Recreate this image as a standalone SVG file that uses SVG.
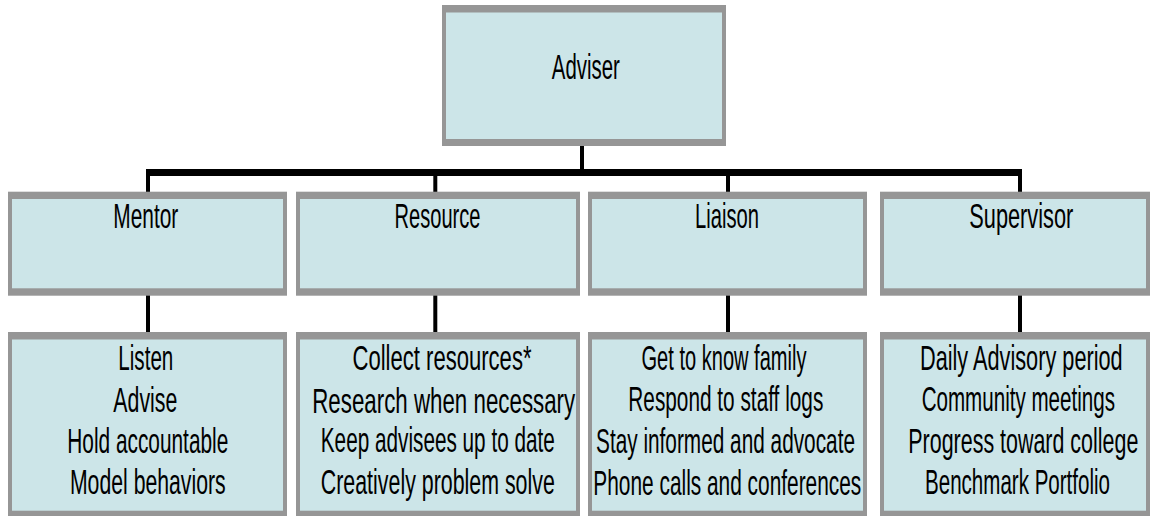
<svg xmlns="http://www.w3.org/2000/svg" width="1150" height="516" viewBox="0 0 1150 516">
<style>
.border{fill:#969696}
.fill{fill:#CCE5E8}
.t{font-family:"Liberation Sans",Arial,sans-serif;font-size:35px;fill:#000;text-anchor:middle}
.c{stroke:#000;fill:none}
</style>
<rect width="1150" height="516" fill="#fff"/>
<g id="connectors">
<line class="c" x1="582" y1="146" x2="582" y2="172" stroke-width="4"/>
<line class="c" x1="146" y1="172.5" x2="1022" y2="172.5" stroke-width="7"/>
<line class="c" x1="148" y1="172" x2="148" y2="192" stroke-width="4"/>
<line class="c" x1="435.3" y1="172" x2="435.3" y2="192" stroke-width="4"/>
<line class="c" x1="728" y1="172" x2="728" y2="192" stroke-width="4"/>
<line class="c" x1="1020" y1="172" x2="1020" y2="192" stroke-width="4"/>
<line class="c" x1="148" y1="295" x2="148" y2="333" stroke-width="4"/>
<line class="c" x1="435.3" y1="295" x2="435.3" y2="333" stroke-width="4"/>
<line class="c" x1="728" y1="295" x2="728" y2="333" stroke-width="4"/>
<line class="c" x1="1020" y1="295" x2="1020" y2="333" stroke-width="4"/>
</g>
<g id="adviser">
<rect class="border" x="442" y="5" width="284" height="141"/>
<rect class="fill" x="446" y="12.5" width="276" height="126.5"/>
<text class="t" transform="translate(585.8,79.3) scale(0.575,1)" textLength="118.3" lengthAdjust="spacingAndGlyphs">Adviser</text>
</g>
<g id="mentor">
<rect class="border" x="8" y="191.7" width="279" height="104"/>
<rect class="fill" x="12" y="199" width="271" height="89.3"/>
<text class="t" transform="translate(145.8,228.3) scale(0.575,1)" textLength="113" lengthAdjust="spacingAndGlyphs">Mentor</text>
</g>
<g id="resource">
<rect class="border" x="296" y="191.7" width="284" height="104"/>
<rect class="fill" x="300" y="199" width="276" height="89.3"/>
<text class="t" transform="translate(437.5,228.3) scale(0.575,1)" textLength="149.6" lengthAdjust="spacingAndGlyphs">Resource</text>
</g>
<g id="liaison">
<rect class="border" x="588" y="191.7" width="279" height="104"/>
<rect class="fill" x="592" y="199" width="271" height="89.3"/>
<text class="t" transform="translate(727,228.3) scale(0.575,1)" textLength="111.3" lengthAdjust="spacingAndGlyphs">Liaison</text>
</g>
<g id="supervisor">
<rect class="border" x="880" y="191.7" width="272" height="104"/>
<rect class="fill" x="884" y="199" width="262" height="89.3"/>
<text class="t" transform="translate(1021.3,228.3) scale(0.575,1)" textLength="180.9" lengthAdjust="spacingAndGlyphs">Supervisor</text>
</g>
<g id="mentor-tasks">
<rect class="border" x="8" y="332" width="279" height="186"/>
<rect class="fill" x="12" y="339.5" width="271" height="171.2"/>
<text class="t" transform="translate(145.8,370) scale(0.575,1)" textLength="95.7" lengthAdjust="spacingAndGlyphs">Listen</text>
<text class="t" transform="translate(145.3,411.5) scale(0.575,1)" textLength="111.3" lengthAdjust="spacingAndGlyphs">Advise</text>
<text class="t" transform="translate(147.8,452.5) scale(0.575,1)" textLength="280" lengthAdjust="spacingAndGlyphs">Hold accountable</text>
<text class="t" transform="translate(147.8,494) scale(0.575,1)" textLength="270.8" lengthAdjust="spacingAndGlyphs">Model behaviors</text>
</g>
<g id="resource-tasks">
<rect class="border" x="296" y="332" width="284" height="186"/>
<rect class="fill" x="300" y="339.5" width="276" height="171.2"/>
<text class="t" transform="translate(442,370) scale(0.575,1)" textLength="311.3" lengthAdjust="spacingAndGlyphs">Collect resources*</text>
<text class="t" transform="translate(443.7,412.5) scale(0.575,1)" textLength="457.4" lengthAdjust="spacingAndGlyphs">Research when necessary</text>
<text class="t" transform="translate(437.8,452) scale(0.575,1)" textLength="407" lengthAdjust="spacingAndGlyphs">Keep advisees up to date</text>
<text class="t" transform="translate(437.8,493.5) scale(0.575,1)" textLength="407" lengthAdjust="spacingAndGlyphs">Creatively problem solve</text>
</g>
<g id="liaison-tasks">
<rect class="border" x="588" y="332" width="279" height="186"/>
<rect class="fill" x="592" y="339.5" width="271" height="171.2"/>
<text class="t" transform="translate(724,369.5) scale(0.575,1)" textLength="287" lengthAdjust="spacingAndGlyphs">Get to know family</text>
<text class="t" transform="translate(725.8,411) scale(0.575,1)" textLength="339.1" lengthAdjust="spacingAndGlyphs">Respond to staff logs</text>
<text class="t" transform="translate(725.5,452.5) scale(0.575,1)" textLength="450.4" lengthAdjust="spacingAndGlyphs">Stay informed and advocate</text>
<text class="t" transform="translate(727.3,494.5) scale(0.575,1)" textLength="466.1" lengthAdjust="spacingAndGlyphs">Phone calls and conferences</text>
</g>
<g id="supervisor-tasks">
<rect class="border" x="880" y="332" width="272" height="186"/>
<rect class="fill" x="884" y="339.5" width="262" height="171.2"/>
<text class="t" transform="translate(1021.3,370) scale(0.575,1)" textLength="352.5" lengthAdjust="spacingAndGlyphs">Daily Advisory period</text>
<text class="t" transform="translate(1018.3,411) scale(0.575,1)" textLength="336.2" lengthAdjust="spacingAndGlyphs">Community meetings</text>
<text class="t" transform="translate(1023.3,452.5) scale(0.575,1)" textLength="400" lengthAdjust="spacingAndGlyphs">Progress toward college</text>
<text class="t" transform="translate(1017.5,493.5) scale(0.575,1)" textLength="321.7" lengthAdjust="spacingAndGlyphs">Benchmark Portfolio</text>
</g>
</svg>
